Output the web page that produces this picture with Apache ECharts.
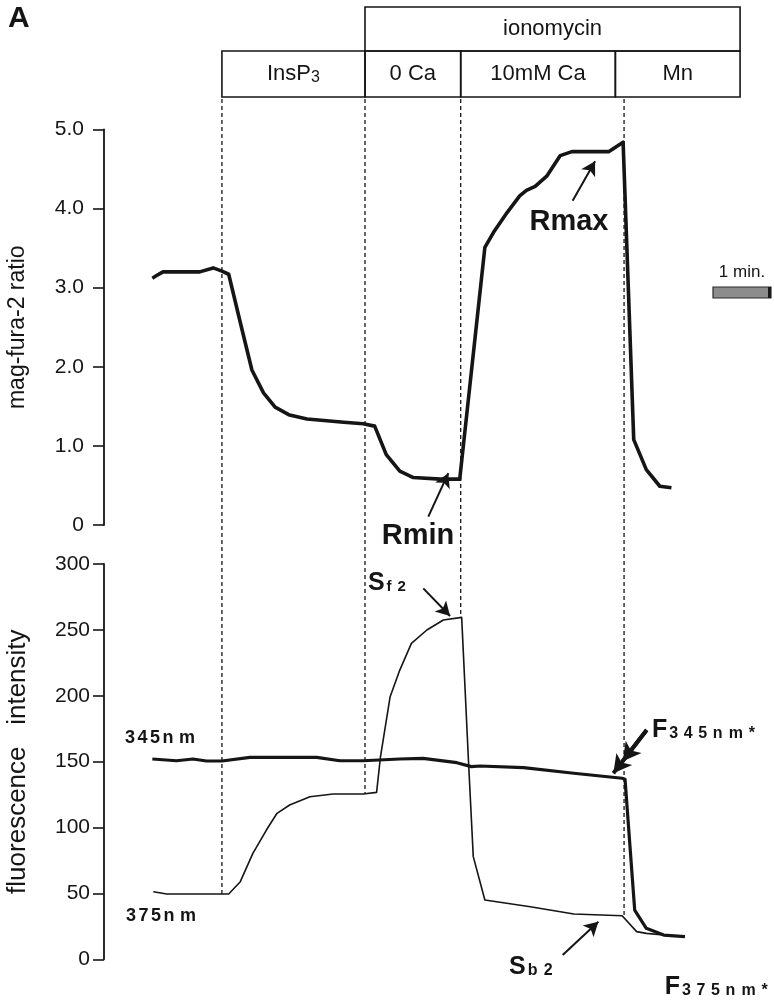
<!DOCTYPE html>
<html>
<head>
<meta charset="utf-8">
<script src="https://cdn.jsdelivr.net/npm/echarts@6/dist/echarts.min.js"></script>
<style>
  html, body { margin: 0; padding: 0; background: #ffffff; }
  #chart { width: 774px; height: 1008px; }
</style>
</head>
<body>
<div id="chart"></div>
<script>
// Time axis is in seconds from the start of the recording.
// Upper trace: mag-fura-2 345/375 ratio
const ratioTime   = [50, 54, 61, 99, 113, 122, 129, 141, 153, 165, 177, 192, 210, 248, 268, 280, 292, 306, 320, 348, 368,
                     394, 403, 417, 430, 437, 446, 458, 472, 484, 522, 537, 548, 561, 575, 587];
const ratioValues = [3.12, 3.15, 3.20, 3.20, 3.25, 3.21, 3.17, 2.56, 1.96, 1.67, 1.49, 1.39, 1.34, 1.30, 1.28, 1.25, 0.89, 0.68, 0.60, 0.58, 0.58,
                     3.51, 3.70, 3.95, 4.16, 4.23, 4.28, 4.41, 4.67, 4.72, 4.72, 4.84, 1.08, 0.70, 0.49, 0.47];

// Lower traces: fluorescence at 345 nm (thick) and 375 nm (thin)
const f345Time   = [50, 75, 92, 106, 122, 151, 220, 244, 268, 306, 330, 365, 380, 389, 434, 486, 536, 539, 549, 561, 579, 601];
const f345Values = [152, 150.7, 152, 150.5, 150.5, 153.3, 153.3, 150.7, 150.7, 152, 152.5, 149.2, 146.2, 146.7, 145.4, 141.2, 137.4, 136.6,
                    37.4, 23.5, 18.4, 17.2];
const f375Time   = [51, 65, 129, 141, 154, 168, 179, 192, 213, 237, 268, 282, 286, 296, 306, 318, 334, 351, 370, 377, 382, 394,
                    441, 486, 536, 551, 561, 579];
const f375Values = [51.3, 49.6, 49.6, 58.9, 80.4, 98.1, 110.8, 117.1, 123.4, 125.4, 125.4, 126.7, 153.7, 199.3, 219.5, 239.8, 249.9,
                    257.5, 259.5, 151.2, 77.9, 45, 39.9, 34.4, 33.1, 21, 19.7, 18.4];

// Solution changes: dashed markers (time, and the 375 nm level where each marker stops)
const eventTime  = [122, 270, 369, 538];
const eventLevel = [49.6, 125.4, 259.5, 33.1];

// Header boxes along the time axis
const stepLabels = ['InsP3', '0 Ca', '10mM Ca', 'Mn'];
const stepEdges  = [122, 270, 369, 529, 658];
const ionomycinSpan = [270, 658];

// Tick labels
const ratioTicks = ['0', '1.0', '2.0', '3.0', '4.0', '5.0'];
const fluorTicks = ['0', '50', '100', '150', '200', '250', '300'];

// Scale bar: one minute
const scaleBar = [630, 690];

const pairs = (xs, ys) => xs.map((x, i) => [x, ys[i]]);

const FONT = '"Liberation Sans", Arial, Helvetica, sans-serif';
const INK = '#151515';

const chart = echarts.init(document.getElementById('chart'), null, { renderer: 'canvas' });

const yAxisCommon = {
  type: 'value',
  axisLine: { show: true, lineStyle: { color: INK, width: 1.8 } },
  axisTick: { show: true, length: 11, lineStyle: { color: INK, width: 1.6 } },
  splitLine: { show: false },
  nameLocation: 'middle',
  nameRotate: 90
};

// arrow annotation; "double" adds a second head a little behind the tip
const arrow = (g, from, to, width, size, double) => {
  const lines = [[{ coord: from }, { coord: to }]];
  if (double) {
    const k = 0.72;
    const mid = [from[0] + k * (to[0] - from[0]), from[1] + k * (to[1] - from[1])];
    lines.push([{ coord: from }, { coord: mid }]);
  }
  return {
    type: 'line', xAxisIndex: g, yAxisIndex: g, data: [], silent: true,
    markLine: {
      silent: true, symbol: ['none', 'arrow'], symbolSize: size,
      label: { show: false },
      lineStyle: { color: INK, width: width, type: 'solid' },
      data: lines
    }
  };
};

chart.setOption({
  backgroundColor: '#ffffff',
  animation: false,
  grid: [
    { left: 104, right: 3, top: 129.5, height: 395.5, containLabel: false, outerBoundsMode: 'none' },
    { left: 104, right: 3, top: 564, height: 395.3, containLabel: false, outerBoundsMode: 'none' }
  ],
  xAxis: [
    { type: 'value', gridIndex: 0, min: 0, max: 690, show: false },
    { type: 'value', gridIndex: 1, min: 0, max: 690, show: false }
  ],
  yAxis: [
    Object.assign({}, yAxisCommon, {
      gridIndex: 0, min: 0, max: 5, interval: 1,
      name: 'mag-fura-2 ratio', nameGap: 75,
      nameTextStyle: { fontFamily: FONT, fontSize: 23, color: INK },
      axisLabel: { margin: 20, fontFamily: FONT, fontSize: 21, color: INK,
                   formatter: v => ratioTicks[Math.round(v)] }
    }),
    Object.assign({}, yAxisCommon, {
      gridIndex: 1, min: 0, max: 300, interval: 50,
      name: 'fluorescence   intensity', nameGap: 73,
      nameTextStyle: { fontFamily: FONT, fontSize: 26, color: INK },
      axisLabel: { margin: 14, fontFamily: FONT, fontSize: 21, color: INK,
                   formatter: v => fluorTicks[Math.round(v / 50)] }
    })
  ],
  series: [
    { type: 'line', xAxisIndex: 0, yAxisIndex: 0, data: pairs(ratioTime, ratioValues),
      symbol: 'none', clip: false, lineStyle: { color: INK, width: 3.6, join: 'round' } },
    { type: 'line', xAxisIndex: 1, yAxisIndex: 1, data: pairs(f375Time, f375Values),
      symbol: 'none', clip: false, lineStyle: { color: INK, width: 1.6, join: 'round' } },
    { type: 'line', xAxisIndex: 1, yAxisIndex: 1, data: pairs(f345Time, f345Values),
      symbol: 'none', clip: false, lineStyle: { color: INK, width: 3.2, join: 'round' } },
    arrow(0, [484.8, 4.1], [508, 4.6], 2, [12, 14]),
    arrow(0, [335.5, 0.105], [356.2, 0.655], 2, [12, 14]),
    arrow(1, [330.3, 281.5], [358, 260.5], 2, [12, 14]),
    arrow(1, [474.5, 3.3], [511.4, 28.5], 2, [12, 14]),
    arrow(1, [561.4, 174], [526.9, 141.2], 4, [15, 18], true),
    arrow(1, [602.7, -9.4], [578.6, 17.2], 4, [15, 18], true)
  ]
});

// Overlay: header boxes, dashed event markers, labels and scale bar,
// positioned through the chart's own coordinate conversion.
const px = (g, t, v) => chart.convertToPixel({ gridIndex: g }, [t, v]);
const xOf = t => px(0, t, 0)[0];

const BOX_TOP = 7, ROW_TOP = 51, ROW_BOTTOM = 97;
const HEAD_FONT = '22px ' + FONT;
const graphics = [];

graphics.push({ type: 'text', left: 8, top: 4,
  style: { text: 'A', font: 'bold 30px ' + FONT, fill: INK } });

// ionomycin bracket
graphics.push({ type: 'rect',
  shape: { x: xOf(ionomycinSpan[0]), y: BOX_TOP, width: xOf(ionomycinSpan[1]) - xOf(ionomycinSpan[0]), height: ROW_TOP - BOX_TOP },
  style: { fill: 'none', stroke: INK, lineWidth: 1.6 } });
graphics.push({ type: 'text',
  x: (xOf(ionomycinSpan[0]) + xOf(ionomycinSpan[1])) / 2, y: (BOX_TOP + ROW_TOP) / 2,
  style: { text: 'ionomycin', font: HEAD_FONT, fill: INK, align: 'center', verticalAlign: 'middle' } });

// step boxes
stepLabels.forEach((lab, i) => {
  const x0 = xOf(stepEdges[i]), x1 = xOf(stepEdges[i + 1]);
  graphics.push({ type: 'rect',
    shape: { x: x0, y: ROW_TOP, width: x1 - x0, height: ROW_BOTTOM - ROW_TOP },
    style: { fill: 'none', stroke: INK, lineWidth: 1.6 } });
  const cx = (x0 + x1) / 2, cy = (ROW_TOP + ROW_BOTTOM) / 2;
  if (lab === 'InsP3') {
    graphics.push({ type: 'text', x: cx, y: cy,
      style: { text: '{a|InsP}{s|3}', align: 'center', verticalAlign: 'middle',
        rich: { a: { font: HEAD_FONT, fill: INK }, s: { font: '16px ' + FONT, fill: INK, padding: [7, 0, 0, 0] } } } });
  } else {
    graphics.push({ type: 'text', x: cx, y: cy,
      style: { text: lab, font: HEAD_FONT, fill: INK, align: 'center', verticalAlign: 'middle' } });
  }
});

// dashed event markers
eventTime.forEach((t, i) => {
  const bottom = px(1, t, eventLevel[i]);
  graphics.push({ type: 'line', silent: true,
    shape: { x1: bottom[0], y1: ROW_BOTTOM + 2, x2: bottom[0], y2: bottom[1] },
    style: { stroke: INK, lineWidth: 1.3, lineDash: [4, 3] } });
});

// letter-spaced bold text: each character sits in its own cell
const cellWidth = (c, digit, letter) => (/[0-9*]/.test(c) ? digit : (c === 'm' ? letter + 4 : letter));
const spacedRich = (str, size, digit, letter, pad) => {
  const rich = {}, parts = [];
  str.split('').forEach((c, i) => {
    const key = 'k' + i;
    rich[key] = { font: 'bold ' + size + 'px ' + FONT, fill: INK, width: cellWidth(c, digit, letter), align: 'left',
                  padding: pad || [0, 0, 0, 0] };
    parts.push('{' + key + '|' + c + '}');
  });
  return { parts: parts.join(''), rich: rich };
};

const addText = (g, t, v, style) => {
  const p = px(g, t, v);
  graphics.push({ type: 'text', x: p[0], y: p[1], style: style });
};

addText(0, 481, 3.83, { text: 'Rmax', font: 'bold 29px ' + FONT, fill: INK, align: 'center', verticalAlign: 'middle' });
addText(0, 324.8, -0.14, { text: 'Rmin', font: 'bold 29px ' + FONT, fill: INK, align: 'center', verticalAlign: 'middle' });

// big letter followed by a smaller spaced subscript
const subLabel = (big, small, size, digit, letter) => {
  const s = spacedRich(small, size, digit, letter, [7, 0, 0, 2]);
  s.rich.big = { font: 'bold 25px ' + FONT, fill: INK };
  return { text: '{big|' + big + '}' + s.parts, rich: s.rich, verticalAlign: 'middle', align: 'left' };
};
addText(1, 273, 285.6, subLabel('S', 'f2', 15, 11, 9));
addText(1, 419, -5.6, subLabel('S', 'b2', 16, 13, 14));
addText(1, 567, 174, subLabel('F', '345nm*', 16, 12.5, 14));
addText(1, 580, -20.8, subLabel('F', '375nm*', 16, 12.5, 14));

const wl345 = spacedRich('345nm', 18, 12.5, 16.5);
addText(1, 21.7, 168, { text: wl345.parts, rich: wl345.rich, verticalAlign: 'middle', align: 'left' });
const wl375 = spacedRich('375nm', 18, 12.5, 16.5);
addText(1, 22.8, 33, { text: wl375.parts, rich: wl375.rich, verticalAlign: 'middle', align: 'left' });

// one-minute scale bar
const sb0 = xOf(scaleBar[0]), sb1 = xOf(scaleBar[1]);
graphics.push({ type: 'text', x: (sb0 + sb1) / 2, y: 272,
  style: { text: '1 min.', font: '17px ' + FONT, fill: INK, align: 'center', verticalAlign: 'middle' } });
graphics.push({ type: 'rect', shape: { x: sb0, y: 287, width: sb1 - sb0, height: 11 },
  style: { fill: '#8c8c8c', stroke: '#2a2a2a', lineWidth: 1.2 } });
graphics.push({ type: 'rect', shape: { x: sb1 - 3, y: 287, width: 3, height: 11 },
  style: { fill: '#1a1a1a' } });

chart.setOption({ graphic: graphics });
</script>
</body>
</html>
